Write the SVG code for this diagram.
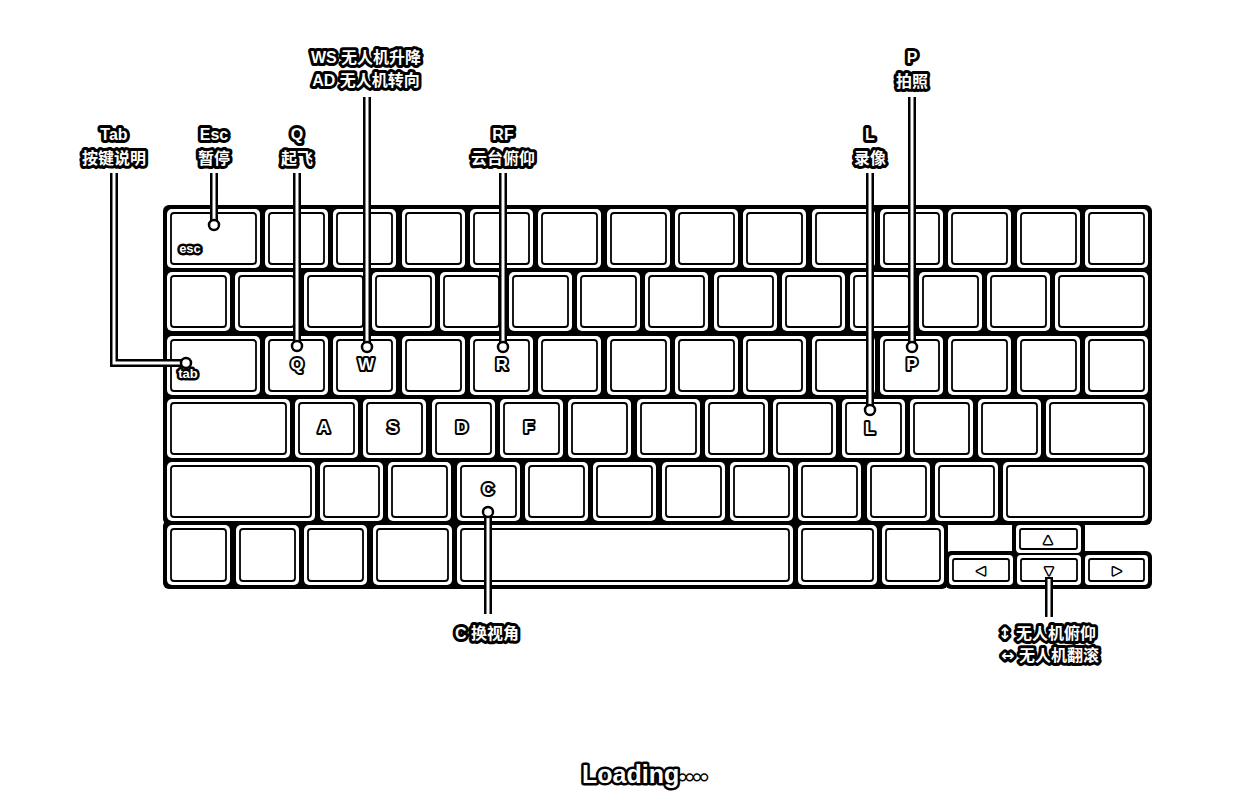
<svg xmlns="http://www.w3.org/2000/svg" width="1243" height="810" viewBox="0 0 1243 810">
<style>
.base{fill:#000}
.k{fill:#fff}
.ki{fill:none;stroke:#000;stroke-width:1.8}
.cb{fill:none;stroke:#000;stroke-width:8}
.cw{fill:none;stroke:#fff;stroke-width:3}
.dot{fill:#fff;stroke:#000;stroke-width:2.5}
.t{font-family:"Liberation Sans","Noto Sans CJK SC",sans-serif;font-weight:bold;fill:#fff;stroke:#000;paint-order:stroke;stroke-linejoin:round;text-anchor:middle}
.lb{font-size:16px;stroke-width:6}
.kl{font-size:17px;stroke-width:4}
.sm{font-size:13px;stroke-width:5}
.ar{font-size:13px;stroke-width:3}
</style>
<rect width="1243" height="810" fill="#fff"/>
<g id="keyboard-base">
<rect class="base" x="163" y="205" width="989" height="320" rx="6"/>
<rect class="base" x="163" y="520" width="785" height="69" rx="6"/>
<rect class="base" x="1012" y="521" width="73" height="36" rx="5"/>
<rect class="base" x="945" y="551" width="207" height="38" rx="6"/>
</g>
<g id="row1">
<g id="key-esc"><rect class="k" x="167" y="209" width="93" height="59" rx="5"/><rect class="ki" x="171" y="213" width="85" height="51" rx="3"/><text class="t sm" x="190" y="253">esc</text></g>
<g id="key-r1-1"><rect class="k" x="265" y="209" width="63" height="59" rx="5"/><rect class="ki" x="269" y="213" width="55" height="51" rx="3"/></g>
<g id="key-r1-2"><rect class="k" x="333" y="209" width="63" height="59" rx="5"/><rect class="ki" x="337" y="213" width="55" height="51" rx="3"/></g>
<g id="key-r1-3"><rect class="k" x="402" y="209" width="63" height="59" rx="5"/><rect class="ki" x="406" y="213" width="55" height="51" rx="3"/></g>
<g id="key-r1-4"><rect class="k" x="470" y="209" width="63" height="59" rx="5"/><rect class="ki" x="474" y="213" width="55" height="51" rx="3"/></g>
<g id="key-r1-5"><rect class="k" x="538" y="209" width="63" height="59" rx="5"/><rect class="ki" x="542" y="213" width="55" height="51" rx="3"/></g>
<g id="key-r1-6"><rect class="k" x="607" y="209" width="63" height="59" rx="5"/><rect class="ki" x="611" y="213" width="55" height="51" rx="3"/></g>
<g id="key-r1-7"><rect class="k" x="675" y="209" width="63" height="59" rx="5"/><rect class="ki" x="679" y="213" width="55" height="51" rx="3"/></g>
<g id="key-r1-8"><rect class="k" x="743" y="209" width="63" height="59" rx="5"/><rect class="ki" x="747" y="213" width="55" height="51" rx="3"/></g>
<g id="key-r1-9"><rect class="k" x="812" y="209" width="63" height="59" rx="5"/><rect class="ki" x="816" y="213" width="55" height="51" rx="3"/></g>
<g id="key-r1-10"><rect class="k" x="880" y="209" width="63" height="59" rx="5"/><rect class="ki" x="884" y="213" width="55" height="51" rx="3"/></g>
<g id="key-r1-11"><rect class="k" x="948" y="209" width="63" height="59" rx="5"/><rect class="ki" x="952" y="213" width="55" height="51" rx="3"/></g>
<g id="key-r1-12"><rect class="k" x="1017" y="209" width="63" height="59" rx="5"/><rect class="ki" x="1021" y="213" width="55" height="51" rx="3"/></g>
<g id="key-r1-13"><rect class="k" x="1085" y="209" width="63" height="59" rx="5"/><rect class="ki" x="1089" y="213" width="55" height="51" rx="3"/></g>
</g>
<g id="row2">
<g id="key-r2-0"><rect class="k" x="167" y="272" width="63" height="59" rx="5"/><rect class="ki" x="171" y="276" width="55" height="51" rx="3"/></g>
<g id="key-r2-1"><rect class="k" x="235" y="272" width="63" height="59" rx="5"/><rect class="ki" x="239" y="276" width="55" height="51" rx="3"/></g>
<g id="key-r2-2"><rect class="k" x="304" y="272" width="63" height="59" rx="5"/><rect class="ki" x="308" y="276" width="55" height="51" rx="3"/></g>
<g id="key-r2-3"><rect class="k" x="372" y="272" width="63" height="59" rx="5"/><rect class="ki" x="376" y="276" width="55" height="51" rx="3"/></g>
<g id="key-r2-4"><rect class="k" x="440" y="272" width="63" height="59" rx="5"/><rect class="ki" x="444" y="276" width="55" height="51" rx="3"/></g>
<g id="key-r2-5"><rect class="k" x="509" y="272" width="63" height="59" rx="5"/><rect class="ki" x="513" y="276" width="55" height="51" rx="3"/></g>
<g id="key-r2-6"><rect class="k" x="577" y="272" width="63" height="59" rx="5"/><rect class="ki" x="581" y="276" width="55" height="51" rx="3"/></g>
<g id="key-r2-7"><rect class="k" x="645" y="272" width="63" height="59" rx="5"/><rect class="ki" x="649" y="276" width="55" height="51" rx="3"/></g>
<g id="key-r2-8"><rect class="k" x="714" y="272" width="63" height="59" rx="5"/><rect class="ki" x="718" y="276" width="55" height="51" rx="3"/></g>
<g id="key-r2-9"><rect class="k" x="782" y="272" width="63" height="59" rx="5"/><rect class="ki" x="786" y="276" width="55" height="51" rx="3"/></g>
<g id="key-r2-10"><rect class="k" x="850" y="272" width="63" height="59" rx="5"/><rect class="ki" x="854" y="276" width="55" height="51" rx="3"/></g>
<g id="key-r2-11"><rect class="k" x="919" y="272" width="63" height="59" rx="5"/><rect class="ki" x="923" y="276" width="55" height="51" rx="3"/></g>
<g id="key-r2-12"><rect class="k" x="987" y="272" width="63" height="59" rx="5"/><rect class="ki" x="991" y="276" width="55" height="51" rx="3"/></g>
<g id="key-r2-13"><rect class="k" x="1055" y="272" width="93" height="59" rx="5"/><rect class="ki" x="1059" y="276" width="85" height="51" rx="3"/></g>
</g>
<g id="row3">
<g id="key-tab"><rect class="k" x="167" y="336" width="93" height="59" rx="5"/><rect class="ki" x="171" y="340" width="85" height="51" rx="3"/><text class="t sm" x="188" y="378">tab</text></g>
<g id="key-q"><rect class="k" x="265" y="336" width="63" height="59" rx="5"/><rect class="ki" x="269" y="340" width="55" height="51" rx="3"/><text class="t kl" x="297" y="370">Q</text></g>
<g id="key-w"><rect class="k" x="333" y="336" width="63" height="59" rx="5"/><rect class="ki" x="337" y="340" width="55" height="51" rx="3"/><text class="t kl" x="366" y="370">W</text></g>
<g id="key-e"><rect class="k" x="402" y="336" width="63" height="59" rx="5"/><rect class="ki" x="406" y="340" width="55" height="51" rx="3"/></g>
<g id="key-r"><rect class="k" x="470" y="336" width="63" height="59" rx="5"/><rect class="ki" x="474" y="340" width="55" height="51" rx="3"/><text class="t kl" x="502" y="370">R</text></g>
<g id="key-t"><rect class="k" x="538" y="336" width="63" height="59" rx="5"/><rect class="ki" x="542" y="340" width="55" height="51" rx="3"/></g>
<g id="key-y"><rect class="k" x="607" y="336" width="63" height="59" rx="5"/><rect class="ki" x="611" y="340" width="55" height="51" rx="3"/></g>
<g id="key-u"><rect class="k" x="675" y="336" width="63" height="59" rx="5"/><rect class="ki" x="679" y="340" width="55" height="51" rx="3"/></g>
<g id="key-i"><rect class="k" x="743" y="336" width="63" height="59" rx="5"/><rect class="ki" x="747" y="340" width="55" height="51" rx="3"/></g>
<g id="key-o"><rect class="k" x="812" y="336" width="63" height="59" rx="5"/><rect class="ki" x="816" y="340" width="55" height="51" rx="3"/></g>
<g id="key-p"><rect class="k" x="880" y="336" width="63" height="59" rx="5"/><rect class="ki" x="884" y="340" width="55" height="51" rx="3"/><text class="t kl" x="912" y="370">P</text></g>
<g id="key-r3-11"><rect class="k" x="948" y="336" width="63" height="59" rx="5"/><rect class="ki" x="952" y="340" width="55" height="51" rx="3"/></g>
<g id="key-r3-12"><rect class="k" x="1017" y="336" width="63" height="59" rx="5"/><rect class="ki" x="1021" y="340" width="55" height="51" rx="3"/></g>
<g id="key-r3-13"><rect class="k" x="1085" y="336" width="63" height="59" rx="5"/><rect class="ki" x="1089" y="340" width="55" height="51" rx="3"/></g>
</g>
<g id="row4">
<g id="key-caps"><rect class="k" x="167" y="399" width="123" height="59" rx="5"/><rect class="ki" x="171" y="403" width="115" height="51" rx="3"/></g>
<g id="key-a"><rect class="k" x="295" y="399" width="63" height="59" rx="5"/><rect class="ki" x="299" y="403" width="55" height="51" rx="3"/><text class="t kl" x="324" y="433">A</text></g>
<g id="key-s"><rect class="k" x="363" y="399" width="63" height="59" rx="5"/><rect class="ki" x="367" y="403" width="55" height="51" rx="3"/><text class="t kl" x="393" y="433">S</text></g>
<g id="key-d"><rect class="k" x="432" y="399" width="63" height="59" rx="5"/><rect class="ki" x="436" y="403" width="55" height="51" rx="3"/><text class="t kl" x="462" y="433">D</text></g>
<g id="key-f"><rect class="k" x="500" y="399" width="63" height="59" rx="5"/><rect class="ki" x="504" y="403" width="55" height="51" rx="3"/><text class="t kl" x="529" y="433">F</text></g>
<g id="key-g"><rect class="k" x="568" y="399" width="63" height="59" rx="5"/><rect class="ki" x="572" y="403" width="55" height="51" rx="3"/></g>
<g id="key-h"><rect class="k" x="637" y="399" width="63" height="59" rx="5"/><rect class="ki" x="641" y="403" width="55" height="51" rx="3"/></g>
<g id="key-j"><rect class="k" x="705" y="399" width="63" height="59" rx="5"/><rect class="ki" x="709" y="403" width="55" height="51" rx="3"/></g>
<g id="key-k"><rect class="k" x="773" y="399" width="63" height="59" rx="5"/><rect class="ki" x="777" y="403" width="55" height="51" rx="3"/></g>
<g id="key-l"><rect class="k" x="842" y="399" width="63" height="59" rx="5"/><rect class="ki" x="846" y="403" width="55" height="51" rx="3"/><text class="t kl" x="870" y="434">L</text></g>
<g id="key-r4-10"><rect class="k" x="910" y="399" width="63" height="59" rx="5"/><rect class="ki" x="914" y="403" width="55" height="51" rx="3"/></g>
<g id="key-r4-11"><rect class="k" x="978" y="399" width="63" height="59" rx="5"/><rect class="ki" x="982" y="403" width="55" height="51" rx="3"/></g>
<g id="key-enter"><rect class="k" x="1046" y="399" width="102" height="59" rx="5"/><rect class="ki" x="1050" y="403" width="94" height="51" rx="3"/></g>
</g>
<g id="row5">
<g id="key-lshift"><rect class="k" x="167" y="462" width="148" height="59" rx="5"/><rect class="ki" x="171" y="466" width="140" height="51" rx="3"/></g>
<g id="key-z"><rect class="k" x="320" y="462" width="63" height="59" rx="5"/><rect class="ki" x="324" y="466" width="55" height="51" rx="3"/></g>
<g id="key-x"><rect class="k" x="388" y="462" width="63" height="59" rx="5"/><rect class="ki" x="392" y="466" width="55" height="51" rx="3"/></g>
<g id="key-c"><rect class="k" x="457" y="462" width="63" height="59" rx="5"/><rect class="ki" x="461" y="466" width="55" height="51" rx="3"/><text class="t kl" x="488" y="495">C</text></g>
<g id="key-v"><rect class="k" x="525" y="462" width="63" height="59" rx="5"/><rect class="ki" x="529" y="466" width="55" height="51" rx="3"/></g>
<g id="key-b"><rect class="k" x="593" y="462" width="63" height="59" rx="5"/><rect class="ki" x="597" y="466" width="55" height="51" rx="3"/></g>
<g id="key-n"><rect class="k" x="662" y="462" width="63" height="59" rx="5"/><rect class="ki" x="666" y="466" width="55" height="51" rx="3"/></g>
<g id="key-m"><rect class="k" x="730" y="462" width="63" height="59" rx="5"/><rect class="ki" x="734" y="466" width="55" height="51" rx="3"/></g>
<g id="key-r5-8"><rect class="k" x="798" y="462" width="63" height="59" rx="5"/><rect class="ki" x="802" y="466" width="55" height="51" rx="3"/></g>
<g id="key-r5-9"><rect class="k" x="867" y="462" width="63" height="59" rx="5"/><rect class="ki" x="871" y="466" width="55" height="51" rx="3"/></g>
<g id="key-r5-10"><rect class="k" x="935" y="462" width="63" height="59" rx="5"/><rect class="ki" x="939" y="466" width="55" height="51" rx="3"/></g>
<g id="key-rshift"><rect class="k" x="1003" y="462" width="145" height="59" rx="5"/><rect class="ki" x="1007" y="466" width="137" height="51" rx="3"/></g>
</g>
<g id="row6">
<g id="key-r6-0"><rect class="k" x="167" y="525" width="63" height="60" rx="5"/><rect class="ki" x="171" y="529" width="55" height="52" rx="3"/></g>
<g id="key-r6-1"><rect class="k" x="236" y="525" width="63" height="60" rx="5"/><rect class="ki" x="240" y="529" width="55" height="52" rx="3"/></g>
<g id="key-r6-2"><rect class="k" x="304" y="525" width="63" height="60" rx="5"/><rect class="ki" x="308" y="529" width="55" height="52" rx="3"/></g>
<g id="key-r6-3"><rect class="k" x="373" y="525" width="79" height="60" rx="5"/><rect class="ki" x="377" y="529" width="71" height="52" rx="3"/></g>
<g id="key-space"><rect class="k" x="457" y="525" width="336" height="60" rx="5"/><rect class="ki" x="461" y="529" width="328" height="52" rx="3"/></g>
<g id="key-r6-5"><rect class="k" x="798" y="525" width="79" height="60" rx="5"/><rect class="ki" x="802" y="529" width="71" height="52" rx="3"/></g>
<g id="key-r6-6"><rect class="k" x="882" y="525" width="62" height="60" rx="5"/><rect class="ki" x="886" y="529" width="54" height="52" rx="3"/></g>
<g id="key-up"><rect class="k" x="1016" y="525" width="65" height="28" rx="4"/><rect class="ki" x="1020" y="529" width="57" height="20" rx="2"/><text class="t ar" x="1048" y="544">▲</text></g>
<g id="key-left"><rect class="k" x="949" y="555" width="64" height="30" rx="4"/><rect class="ki" x="953" y="559" width="56" height="22" rx="2"/><text class="t ar" x="981" y="575">◄</text></g>
<g id="key-down"><rect class="k" x="1017" y="555" width="64" height="30" rx="4"/><rect class="ki" x="1021" y="559" width="56" height="22" rx="2"/><text class="t ar" x="1049" y="575">▼</text></g>
<g id="key-right"><rect class="k" x="1085" y="555" width="63" height="30" rx="4"/><rect class="ki" x="1089" y="559" width="55" height="22" rx="2"/><text class="t ar" x="1117" y="575">►</text></g>
</g>
<g id="connectors">
<path class="cb" d="M114,173 V363 H186 M214,173 V225 M297,173 V346 M367,97 V347 M503,173 V347 M870,173 V410 M912,97 V347 M488,512 V614 M1049,577 V617"/>
<path class="cw" d="M114,171 V363 H186 M214,171 V225 M297,171 V346 M367,95 V347 M503,171 V347 M870,171 V410 M912,95 V347 M488,512 V616 M1049,579 V619"/>
<circle class="dot" cx="186" cy="363" r="5"/>
<circle class="dot" cx="214" cy="225" r="5"/>
<circle class="dot" cx="297" cy="346" r="5"/>
<circle class="dot" cx="367" cy="347" r="5"/>
<circle class="dot" cx="503" cy="347" r="5"/>
<circle class="dot" cx="870" cy="410" r="5"/>
<circle class="dot" cx="912" cy="347" r="5"/>
<circle class="dot" cx="488" cy="512" r="5"/>
</g>
<g id="label-tab"><text class="t lb" x="114" y="140">Tab</text><text class="t lb" x="114" y="164">按键说明</text></g>
<g id="label-esc"><text class="t lb" x="214" y="140">Esc</text><text class="t lb" x="214" y="164">暂停</text></g>
<g id="label-q"><text class="t lb" x="297" y="140">Q</text><text class="t lb" x="297" y="164">起飞</text></g>
<g id="label-wsad"><text class="t lb" x="366" y="63">WS 无人机升降</text><text class="t lb" x="366" y="86">AD 无人机转向</text></g>
<g id="label-rf"><text class="t lb" x="503" y="140">RF</text><text class="t lb" x="503" y="164">云台俯仰</text></g>
<g id="label-l"><text class="t lb" x="870" y="140">L</text><text class="t lb" x="870" y="164">录像</text></g>
<g id="label-p"><text class="t lb" x="912" y="63">P</text><text class="t lb" x="912" y="87">拍照</text></g>
<g id="label-c"><text class="t lb" x="487" y="639">C 换视角</text></g>
<g id="label-arrows"><text class="t lb" x="1047" y="639"><tspan style="font-family:'DejaVu Sans',sans-serif">↕</tspan> 无人机俯仰</text><text class="t lb" x="1050" y="661"><tspan style="font-family:'DejaVu Sans',sans-serif">↔</tspan> 无人机翻滚</text></g>
<g id="loading"><text class="t" x="582" y="783" style="font-size:25px;stroke-width:5;text-anchor:start">Loading<tspan style="font-size:18px;stroke-width:3" letter-spacing="1">••••</tspan></text></g>
</svg>
